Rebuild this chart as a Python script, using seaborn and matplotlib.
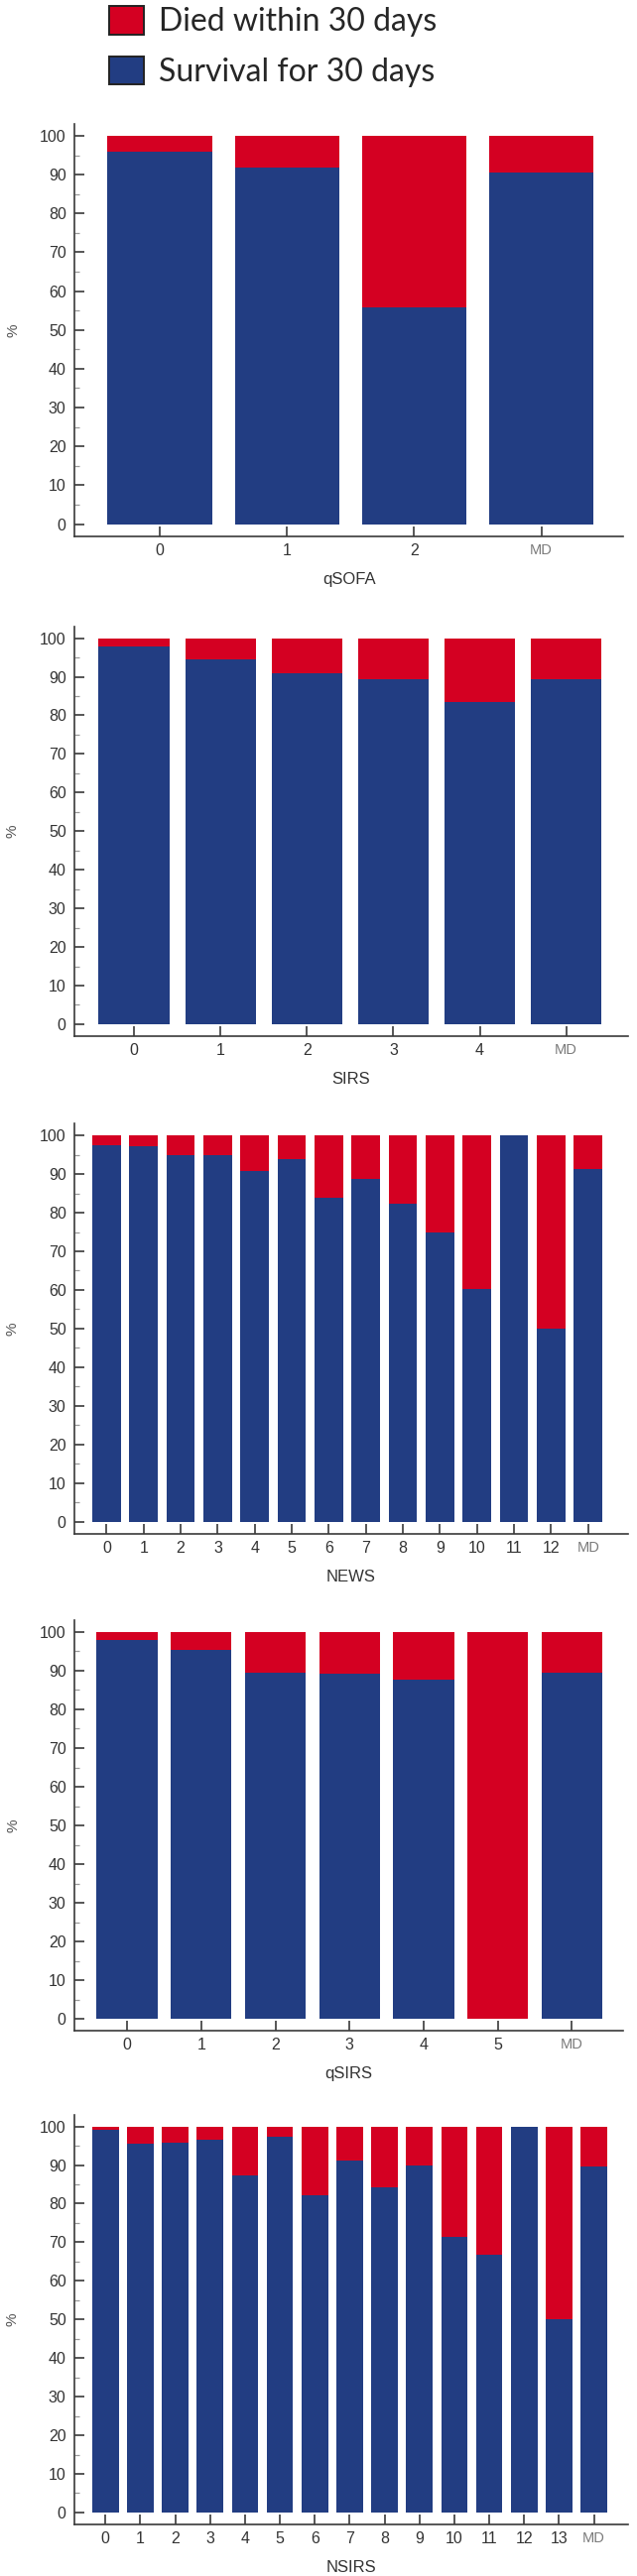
import matplotlib
matplotlib.use("Agg")
import matplotlib.pyplot as plt
import seaborn as sns
import pandas as pd
from matplotlib.patches import Patch

# ---------------- data (percent surviving 30 days) ----------------
qsofa_cats = ["0", "1", "2", "MD"]
qsofa_surv = [95.9, 91.9, 55.7, 90.6]

sirs_cats = ["0", "1", "2", "3", "4", "MD"]
sirs_surv = [97.8, 94.4, 90.9, 89.3, 83.5, 89.3]

news_cats = ["0", "1", "2", "3", "4", "5", "6", "7", "8", "9", "10", "11", "12", "MD"]
news_surv = [97.6, 97.2, 94.8, 95.0, 90.8, 93.8, 83.9, 88.7, 82.4, 75.0, 60.3, 100.0, 50.0, 91.3]

qsirs_cats = ["0", "1", "2", "3", "4", "5", "MD"]
qsirs_surv = [97.8, 95.3, 89.4, 89.1, 87.6, 0.0, 89.4]

nsirs_cats = ["0", "1", "2", "3", "4", "5", "6", "7", "8", "9", "10", "11", "12", "13", "MD"]
nsirs_surv = [99.1, 95.6, 95.9, 96.5, 87.4, 97.4, 82.2, 91.2, 84.2, 90.0, 71.5, 66.7, 100.0, 50.1, 89.5]

titles = ["qSOFA", "SIRS", "NEWS", "qSIRS", "NSIRS"]
legend_labels = ["Died within 30 days", "Survival for 30 days"]

# ---------------- style ----------------
RED = "#D40022"
BLUE = "#223D82"
DARK = "#333333"

sns.set_theme(style="white")
plt.rcParams["font.family"] = ["Liberation Sans", "DejaVu Sans"]

W, H = 642, 2598
fig = plt.figure(figsize=(W / 100, H / 100), dpi=100)

# (left, right, top, bottom) in pixels, xlim, bar width
layout = [
    (75, 628.4, 125.0, 540.7, (-0.67, 3.645), 0.82),
    (75, 632.5, 631.7, 1045.0, (-0.69, 5.71), 0.82),
    (75, 633.0, 1133.3, 1546.7, (-0.87, 14.08), 0.77),
    (75, 628.0, 1634.0, 2048.3, (-0.71, 6.69), 0.82),
    (75, 633.0, 2132.7, 2546.0, (-0.89, 14.98), 0.76),
]
panels = [
    (qsofa_cats, qsofa_surv),
    (sirs_cats, sirs_surv),
    (news_cats, news_surv),
    (qsirs_cats, qsirs_surv),
    (nsirs_cats, nsirs_surv),
]

for (cats, surv), title, (l, r, t, b, xl, bw) in zip(panels, titles, layout):
    ax = fig.add_axes([l / W, 1 - b / H, (r - l) / W, (b - t) / H])
    died = [100 - s for s in surv]
    df = pd.DataFrame({"cat": cats, "surv": surv, "died": died})
    df["total"] = df["surv"] + df["died"]
    sns.barplot(data=df, x="cat", y="total", order=cats, color=RED,
                width=bw, saturation=1, ax=ax, linewidth=0)
    sns.barplot(data=df, x="cat", y="surv", order=cats, color=BLUE,
                width=bw, saturation=1, ax=ax, linewidth=0)
    ax.set_xlim(*xl)
    ax.set_ylim(-3.1, 103.05)
    ax.set_yticks(range(0, 101, 10))
    ax.set_yticks(range(5, 100, 10), minor=True)
    for s in ["top", "right"]:
        ax.spines[s].set_visible(False)
    for s in ["left", "bottom"]:
        ax.spines[s].set_color("#3a3a3a")
        ax.spines[s].set_linewidth(1.2)
    ax.tick_params(axis="y", which="major", direction="in", length=7, width=1.2,
                   color="#3a3a3a", labelsize=11.5, labelcolor=DARK, pad=6, left=True)
    ax.tick_params(axis="y", which="minor", direction="in", length=3.5, width=0.9,
                   color="#9a9a9a", left=True)
    ax.tick_params(axis="x", which="major", direction="in", length=7, width=1.2,
                   color="#3a3a3a", labelsize=11.5, labelcolor=DARK, pad=5, bottom=True)
    for lab in ax.get_xticklabels():
        if lab.get_text() == "MD":
            lab.set_color("#7a7a7a")
            lab.set_fontsize(10.5)
    ax.set_xlabel(title, fontsize=12, color=DARK, labelpad=10)
    ax.set_ylabel("%", fontsize=11, color="#555555")
    ax.yaxis.set_label_coords(-0.099, 0.5)
    ax.grid(False)

handles = [Patch(facecolor=RED, edgecolor="#222222", linewidth=1.4),
           Patch(facecolor=BLUE, edgecolor="#222222", linewidth=1.4)]
fig.legend(handles, legend_labels, loc="upper left",
           bbox_to_anchor=(107 / W, 1 - 3 / H), frameon=False,
           prop={"family": ["Lato", "DejaVu Sans"], "size": 23},
           handlelength=1.1, handleheight=1.0, handletextpad=0.45,
           labelspacing=0.6, borderaxespad=0.0, borderpad=0.1)

fig.savefig("out.png", dpi=100, facecolor="white")
